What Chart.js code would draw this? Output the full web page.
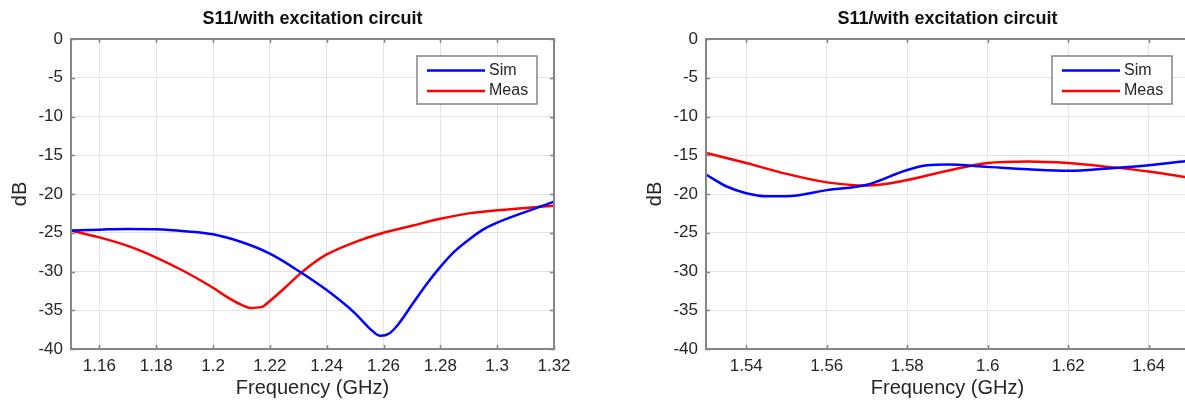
<!DOCTYPE html>
<html>
<head>
<meta charset="utf-8">
<script src="https://cdn.jsdelivr.net/npm/chart.js@4"></script>
<style>
html, body { margin: 0; padding: 0; background: #fff; overflow: hidden; }
#js--chart1 { position: absolute; left: 0; top: 0; }
#js--chart2 { position: absolute; left: 600px; top: 0; }
</style>
</head>
<body>
<canvas id="js--chart1" width="600" height="404"></canvas>
<canvas id="js--chart2" width="600" height="404"></canvas>
<script>
// left panel, 1.15 - 1.32 GHz
const simFreqL = [1.15, 1.16, 1.17, 1.18, 1.19, 1.20, 1.21, 1.22, 1.23, 1.24, 1.25, 1.255, 1.259, 1.262, 1.265, 1.27, 1.275, 1.28, 1.285, 1.29, 1.295, 1.30, 1.31, 1.32];
const simL = [-24.7, -24.6, -24.5, -24.55, -24.8, -25.2, -26.2, -27.7, -29.9, -32.4, -35.4, -37.3, -38.3, -38.0, -36.9, -34.3, -31.7, -29.4, -27.4, -25.9, -24.6, -23.7, -22.3, -21.0];
const measFreqL = [1.15, 1.16, 1.17, 1.18, 1.19, 1.20, 1.205, 1.21, 1.213, 1.217, 1.22, 1.225, 1.23, 1.235, 1.24, 1.25, 1.26, 1.27, 1.28, 1.29, 1.30, 1.31, 1.32];
const measL = [-24.7, -25.6, -26.7, -28.2, -30.0, -32.1, -33.3, -34.3, -34.7, -34.6, -33.8, -32.2, -30.5, -29.0, -27.8, -26.2, -25.0, -24.1, -23.2, -22.5, -22.1, -21.8, -21.5];
const xTicksL = [1.16, 1.18, 1.2, 1.22, 1.24, 1.26, 1.28, 1.3, 1.32];

// right panel, 1.53 - 1.65 GHz
const simFreqR = [1.53, 1.535, 1.54, 1.545, 1.55, 1.56, 1.57, 1.58, 1.585, 1.59, 1.60, 1.61, 1.62, 1.63, 1.64, 1.65];
const simR = [-17.5, -19.0, -19.9, -20.3, -20.3, -19.5, -18.8, -16.9, -16.3, -16.2, -16.5, -16.8, -17.0, -16.7, -16.3, -15.7];
const measFreqR = [1.53, 1.54, 1.55, 1.56, 1.57, 1.58, 1.59, 1.60, 1.61, 1.62, 1.63, 1.64, 1.65];
const measR = [-14.7, -16.0, -17.4, -18.5, -18.9, -18.2, -17.0, -16.0, -15.8, -16.0, -16.5, -17.1, -17.9];
const xTicksR = [1.54, 1.56, 1.58, 1.6, 1.62, 1.64];

const yTicks = [0, -5, -10, -15, -20, -25, -30, -35, -40];
const seriesNames = ['Sim', 'Meas'];
const seriesColors = ['#0000ff', '#ff0000'];

const FONT = '"Liberation Sans", Arial, sans-serif';
const TEXT = '#262626';
const AXIS = '#858585';
const GRID = '#e4e4e4';

function pts(xs, ys) {
    return xs.map((x, i) => ({x: x, y: ys[i]}));
}

// matlab style frame, inward ticks and legend box
const matlabBox = {
    id: 'matlabBox',
    afterDatasetsDraw(chart) {
        const ctx = chart.ctx;
        const a = chart.chartArea;
        const sx = chart.scales.x, sy = chart.scales.y;
        ctx.save();
        ctx.strokeStyle = AXIS;
        ctx.lineWidth = 1.5;
        ctx.beginPath();
        sx.ticks.forEach(t => {
            const p = Math.round(sx.getPixelForValue(t.value)) + 0.5;
            ctx.moveTo(p, a.bottom); ctx.lineTo(p, a.bottom - 4);
            ctx.moveTo(p, a.top); ctx.lineTo(p, a.top + 4);
        });
        sy.ticks.forEach(t => {
            const p = Math.round(sy.getPixelForValue(t.value)) + 0.5;
            ctx.moveTo(a.left, p); ctx.lineTo(a.left + 4, p);
            ctx.moveTo(a.right, p); ctx.lineTo(a.right - 4, p);
        });
        ctx.stroke();
        ctx.lineWidth = 2;
        ctx.strokeRect(a.left, a.top, a.right - a.left, a.bottom - a.top);

        // legend
        const bw = 120, bh = 48;
        const bx = a.right - 17 - bw, by = a.top + 17;
        ctx.fillStyle = '#fff';
        ctx.fillRect(bx, by, bw, bh);
        ctx.lineWidth = 1.5;
        ctx.strokeRect(bx, by, bw, bh);
        ctx.font = '16px ' + FONT;
        ctx.textBaseline = 'middle';
        chart.data.datasets.forEach((ds, i) => {
            const ly = by + 14.5 + i * 20.5;
            ctx.strokeStyle = ds.borderColor;
            ctx.lineWidth = 2.5;
            ctx.beginPath();
            ctx.moveTo(bx + 10, ly); ctx.lineTo(bx + 68, ly);
            ctx.stroke();
            ctx.fillStyle = TEXT;
            ctx.fillText(ds.label, bx + 72, ly);
        });
        ctx.restore();
    }
};

function makeChart(el, sims, meas, xmin, xmax, xticks, yAxisW, yTitlePad, padRight) {
    return new Chart(el, {
        type: 'line',
        data: {
            datasets: [
                {label: seriesNames[0], data: sims, borderColor: seriesColors[0]},
                {label: seriesNames[1], data: meas, borderColor: seriesColors[1]}
            ]
        },
        options: {
            responsive: false,
            animation: false,
            layout: {padding: {left: 0, right: padRight, top: 0, bottom: 0}},
            elements: {
                point: {radius: 0},
                line: {borderWidth: 2.5, cubicInterpolationMode: 'monotone', fill: false}
            },
            plugins: {
                legend: {display: false},
                tooltip: {enabled: false},
                title: {
                    display: true,
                    fullSize: false,
                    text: 'S11/with excitation circuit',
                    color: '#111',
                    font: {family: FONT, size: 18, weight: 'bold'},
                    padding: {top: 8, bottom: 9.4}
                }
            },
            scales: {
                x: {
                    type: 'linear',
                    min: xmin,
                    max: xmax,
                    afterBuildTicks: s => { s.ticks = xticks.map(v => ({value: v})); },
                    afterFit: s => { s.height = 55; },
                    grid: {color: GRID, lineWidth: 1, drawTicks: false},
                    border: {display: false},
                    ticks: {
                        color: TEXT, padding: 7, maxRotation: 0, autoSkip: false,
                        font: {family: FONT, size: 17},
                        callback: v => String(v)
                    },
                    title: {
                        display: true, text: 'Frequency (GHz)', color: TEXT,
                        font: {family: FONT, size: 20}, padding: {top: 0, bottom: 4}
                    }
                },
                y: {
                    min: -40,
                    max: 0,
                    afterBuildTicks: s => { s.ticks = yTicks.map(v => ({value: v})); },
                    afterFit: s => { s.width = yAxisW; },
                    grid: {color: GRID, lineWidth: 1, drawTicks: false},
                    border: {display: false},
                    ticks: {
                        color: TEXT, padding: 8,
                        font: {family: FONT, size: 17},
                        callback: v => String(v)
                    },
                    title: {
                        display: true, text: 'dB', color: TEXT,
                        font: {family: FONT, size: 20}, padding: {top: yTitlePad, bottom: 0}
                    }
                }
            }
        },
        plugins: [matlabBox]
    });
}

makeChart(document.getElementById('js--chart1'), pts(simFreqL, simL), pts(measFreqL, measL),
    1.15, 1.32, xTicksL, 71, 8, 46);
makeChart(document.getElementById('js--chart2'), pts(simFreqR, simR), pts(measFreqR, measR),
    1.53, 1.65, xTicksR, 106, 43, 11);
</script>
</body>
</html>
